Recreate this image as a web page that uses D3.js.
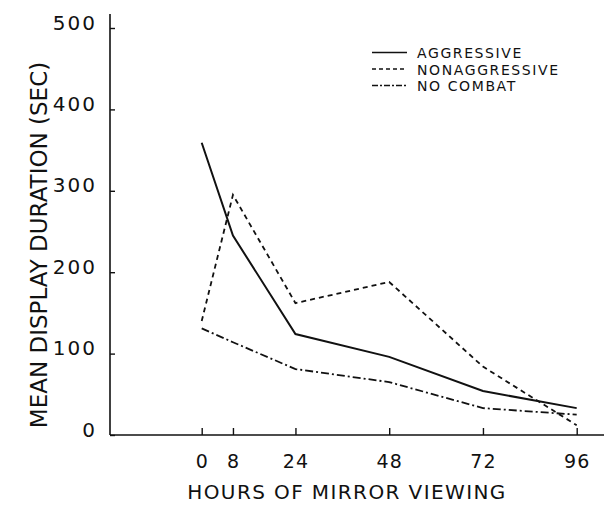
<!DOCTYPE html>
<html>
<head>
<meta charset="utf-8">
<script src="https://cdn.jsdelivr.net/npm/d3@7"></script>
<style>
  body { margin: 0; background: #fff; }
  text { font-family: "DejaVu Sans", sans-serif; fill: #111; }
</style>
</head>
<body>
<div id="chart"></div>
<script>
// hours of mirror viewing
var hours = [0, 8, 24, 48, 72, 96];
var xTicks = [0, 8, 24, 48, 72, 96];
var yTicks = [0, 100, 200, 300, 400, 500];

// mean display duration (sec)
var aggressive = [359, 245, 124, 96, 54, 33];
var nonaggressive = [140, 295, 162, 188, 84, 12];
var noCombat = [131, 114, 81, 65, 33, 25];

var seriesNames = ["AGGRESSIVE", "NONAGGRESSIVE", "NO COMBAT"];
var dashes = [null, "5,4", "8,3,2,3"];

var width = 604, height = 505;

var svg = d3.select("#chart").append("svg")
    .attr("width", width)
    .attr("height", height);

var x = d3.scaleLinear().domain([0, 96]).range([201.7, 576.7]);
var y = d3.scaleLinear().domain([0, 500]).range([435, 28]);

var axisX = 110, axisY = y(0);

// axis lines
svg.append("line")
    .attr("x1", axisX).attr("x2", axisX)
    .attr("y1", 14).attr("y2", axisY)
    .attr("stroke", "#111").attr("stroke-width", 1.6);
svg.append("line")
    .attr("x1", axisX).attr("x2", width)
    .attr("y1", axisY).attr("y2", axisY)
    .attr("stroke", "#111").attr("stroke-width", 1.6);

// y axis
var gy = svg.append("g")
    .attr("transform", "translate(" + axisX + ",0)")
    .call(d3.axisLeft(y).tickValues(yTicks).tickSizeInner(-5).tickSizeOuter(0).tickPadding(13));
gy.select(".domain").remove();
gy.selectAll("line").attr("stroke", "#111").attr("stroke-width", 1.4);
gy.selectAll("text")
    .attr("dy", 1)
    .style("font-size", "20px")
    .style("letter-spacing", "2px")
    .attr("fill", "#111");

// x axis
var gx = svg.append("g")
    .attr("transform", "translate(0," + axisY + ")")
    .call(d3.axisBottom(x).tickValues(xTicks).tickSizeInner(-7).tickSizeOuter(0));
gx.select(".domain").remove();
gx.selectAll("line").attr("stroke", "#111").attr("stroke-width", 1.4);
gx.selectAll("text")
    .attr("y", 33).attr("dy", 0)
    .style("font-size", "19px")
    .style("letter-spacing", "1px")
    .attr("fill", "#111");

// axis titles
svg.append("text")
    .attr("x", 347).attr("y", 499)
    .attr("text-anchor", "middle")
    .style("font-size", "20px")
    .style("letter-spacing", "1.4px")
    .text("HOURS OF MIRROR VIEWING");

svg.append("text")
    .attr("transform", "translate(47,245) rotate(-90)")
    .attr("text-anchor", "middle")
    .style("font-size", "23px")
    .text("MEAN DISPLAY DURATION (SEC)");

// lines
var line = d3.line()
    .x(function (d, i) { return x(hours[i]); })
    .y(function (d) { return y(d); });

var series = [aggressive, nonaggressive, noCombat];

svg.selectAll("path.series")
    .data(series)
    .enter().append("path")
    .attr("class", "series")
    .attr("d", line)
    .attr("fill", "none")
    .attr("stroke", "#111")
    .attr("stroke-width", function (d, i) { return i == 0 ? 2 : 1.8; })
    .attr("stroke-dasharray", function (d, i) { return dashes[i]; });

// legend
var legend = svg.selectAll("g.legend")
    .data(seriesNames)
    .enter().append("g")
    .attr("class", "legend")
    .attr("transform", function (d, i) { return "translate(372," + (52.5 + i * 16.5) + ")"; });

legend.append("line")
    .attr("x1", 0).attr("x2", 35)
    .attr("stroke", "#111")
    .attr("stroke-width", 1.6)
    .attr("stroke-dasharray", function (d, i) { return i == 1 ? "4,3" : (i == 2 ? "6,2,2,2" : null); });

legend.append("text")
    .attr("x", 45).attr("y", 5.5)
    .style("font-size", "14px")
    .style("letter-spacing", "1.6px")
    .text(function (d) { return d; });
</script>
</body>
</html>
